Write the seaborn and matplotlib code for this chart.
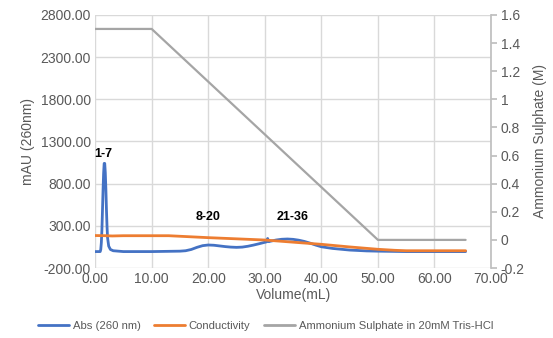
import matplotlib
matplotlib.use("Agg")
import matplotlib.pyplot as plt
import seaborn as sns
import pandas as pd
from matplotlib.ticker import FuncFormatter, MultipleLocator
from matplotlib.lines import Line2D

# ---- data ----
abs_x = [0, 0.9, 1.0, 1.1, 1.2, 1.3, 1.4, 1.5, 1.6, 1.7, 1.8, 1.9, 2.0, 2.1, 2.2, 2.4, 2.7, 3.2,
         5, 10, 15, 16, 17, 18, 19, 20, 21, 22, 23, 24, 25, 26, 27, 28, 29,
         30, 30.3, 30.5, 30.7, 31, 32, 33, 34, 35, 36, 37, 38, 39, 40, 42, 45, 48, 50, 55, 60, 65.5]
abs_y = [-5, -5, 20, 100, 250, 480, 720, 920, 1040, 1040, 930, 740, 500, 300, 160, 60, 20, 5,
         -5, -5, 0, 5, 20, 45, 65, 73, 70, 62, 54, 48, 45, 48, 58, 72, 88,
         105, 110, 150, 112, 118, 132, 141, 144, 140, 130, 115, 95, 72, 52, 32, 13, 3, 0, -5, -5, -5]
cond_x = [0, 2, 3, 5, 10, 13, 20, 30, 40, 45, 50, 53, 55, 65.5]
cond_y = [185, 183, 180, 183, 183, 183, 160, 132, 81, 50, 22, 10, 5, 5]
amm_x = [0, 10, 50, 65.5]
amm_y = [1.5, 1.5, 0, 0]
left_ticks = [-200, 300, 800, 1300, 1800, 2300, 2800]
peak_labels = ["1-7", "8-20", "21-36"]
peak_label_x = [1.5, 20, 35]
peak_label_y = [1080, 330, 330]
series_names = ["Abs (260 nm)", "Conductivity", "Ammonium Sulphate in 20mM Tris-HCl"]

c_blue, c_orange, c_gray = "#4472C4", "#ED7D31", "#A5A5A5"
txt = "#595959"

sns.set_theme(style="white")
plt.rcParams["font.family"] = ["Liberation Sans", "DejaVu Sans"]

fig = plt.figure(figsize=(5.53, 3.38), dpi=100)
ax = fig.add_axes([0.172, 0.207, 0.716, 0.749])
ax2 = ax.twinx()

df_abs = pd.DataFrame({"x": abs_x, "y": abs_y})
df_cond = pd.DataFrame({"x": cond_x, "y": cond_y})
df_amm = pd.DataFrame({"x": amm_x, "y": amm_y})

sns.lineplot(data=df_abs, x="x", y="y", ax=ax, color=c_blue, lw=2, zorder=3)
sns.lineplot(data=df_cond, x="x", y="y", ax=ax, color=c_orange, lw=2, zorder=4)
sns.lineplot(data=df_amm, x="x", y="y", ax=ax2, color=c_gray, lw=1.6)

ax.set_xlim(0, 70)
ax.set_ylim(-200, 2800)
ax2.set_ylim(-0.2, 1.6)
ax.xaxis.set_major_locator(MultipleLocator(10))
ax.set_yticks(left_ticks)
ax2.yaxis.set_major_locator(MultipleLocator(0.2))
ax.xaxis.set_major_formatter(FuncFormatter(lambda v, p: f"{v:.2f}"))
ax.yaxis.set_major_formatter(FuncFormatter(lambda v, p: f"{v:.2f}"))
ax2.yaxis.set_major_formatter(FuncFormatter(lambda v, p: f"{v:.1f}".rstrip("0").rstrip(".") if abs(v) > 1e-9 else "0"))

ax.grid(True, color="#D9D9D9", lw=1)
ax2.grid(False)
for a in (ax, ax2):
    for s in a.spines.values():
        s.set_visible(False)
ax2.spines["right"].set_visible(True)
ax2.spines["right"].set_color("#BFBFBF")
ax.tick_params(axis="both", length=0, labelsize=10, labelcolor=txt, pad=3)
ax2.tick_params(axis="y", length=4, color="#BFBFBF", labelsize=10, labelcolor=txt, pad=3, direction="out", right=True)

ax.set_xlabel("Volume(mL)", fontsize=10, color=txt, labelpad=1)
ax.set_ylabel("mAU (260nm)", fontsize=10, color=txt, labelpad=4)
ax2.set_ylabel("Ammonium Sulphate (M)", fontsize=10, color=txt, labelpad=6)

for lab, lx, ly in zip(peak_labels, peak_label_x, peak_label_y):
    ax.text(lx, ly, lab, ha="center", va="bottom", fontsize=9, fontweight="bold", color="black")

handles = [Line2D([], [], color=c, lw=2) for c in (c_blue, c_orange, c_gray)]
fig.legend(handles, series_names, loc="center", bbox_to_anchor=(0.48, 0.035), ncol=3,
           frameon=False, fontsize=8.1, handlelength=2.8, handletextpad=0.3,
           columnspacing=1.2, labelcolor=txt)

fig.savefig("out.png", dpi=100)
